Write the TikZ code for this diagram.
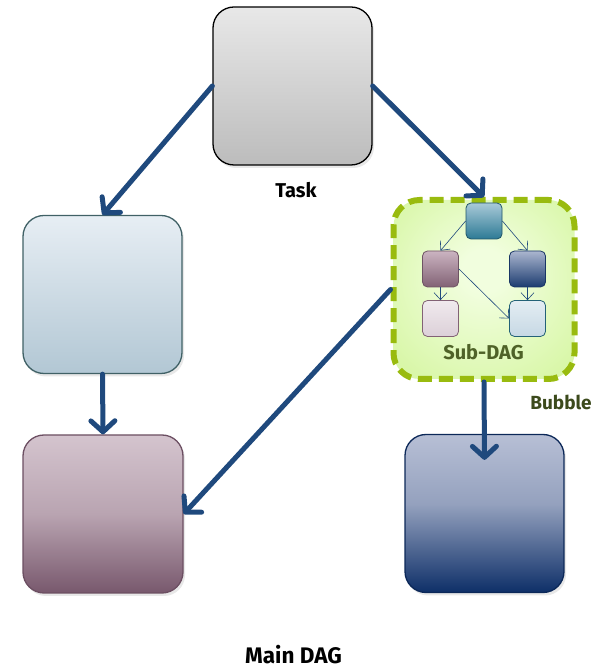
\documentclass[tikz,border=0pt]{standalone}
\usepackage{fontspec}
\setmainfont{Fira Sans}
\usetikzlibrary{arrows.meta,shadows}

% vertical fills (bottom colour first)
\definecolor{taskTop}{HTML}{E8E8E8}\definecolor{taskBot}{HTML}{BCBCBC}
\definecolor{lbTop}{HTML}{E7EEF4}\definecolor{lbBot}{HTML}{B2C7D4}
\definecolor{mvTop}{HTML}{D4C4CE}\definecolor{mvMid}{HTML}{B9A4B1}\definecolor{mvBot}{HTML}{78586D}
\definecolor{nvTop}{HTML}{B7BFD5}\definecolor{nvMid}{HTML}{94A1BE}\definecolor{nvBot}{HTML}{0E2F68}
\definecolor{stTop}{HTML}{A9CAD8}\definecolor{stBot}{HTML}{2D7A95}
\definecolor{smTop}{HTML}{CBB4C1}\definecolor{smBot}{HTML}{826275}
\definecolor{snTop}{HTML}{ABB6CF}\definecolor{snBot}{HTML}{1C3C70}
\definecolor{slmTop}{HTML}{F0EAEE}\definecolor{slmBot}{HTML}{DCD0D8}
\definecolor{slbTop}{HTML}{E4EDF3}\definecolor{slbBot}{HTML}{C6D8E4}
\definecolor{arrowBlue}{HTML}{1F497D}
\definecolor{bubbleEdge}{HTML}{99BB0F}
\definecolor{bubbleIn}{HTML}{F1FEDE}
\definecolor{bubbleOut}{HTML}{D9F7A9}
\definecolor{oliveText}{HTML}{4F6228}
\definecolor{oliveDark}{HTML}{3C4A1C}

\pgfdeclareverticalshading{taskfill}{100bp}{color(0bp)=(taskBot); color(25bp)=(taskBot); color(75bp)=(taskTop); color(100bp)=(taskTop)}
\pgfdeclareverticalshading{lbfill}{100bp}{color(0bp)=(lbBot); color(25bp)=(lbBot); color(75bp)=(lbTop); color(100bp)=(lbTop)}
\pgfdeclareverticalshading{mvfill}{100bp}{color(0bp)=(mvBot); color(25bp)=(mvBot); color(50bp)=(mvMid); color(75bp)=(mvTop); color(100bp)=(mvTop)}
\pgfdeclareverticalshading{nvfill}{100bp}{color(0bp)=(nvBot); color(25bp)=(nvBot); color(53bp)=(nvMid); color(75bp)=(nvTop); color(100bp)=(nvTop)}
\pgfdeclareverticalshading{stfill}{100bp}{color(0bp)=(stBot); color(25bp)=(stBot); color(75bp)=(stTop); color(100bp)=(stTop)}
\pgfdeclareverticalshading{smfill}{100bp}{color(0bp)=(smBot); color(25bp)=(smBot); color(75bp)=(smTop); color(100bp)=(smTop)}
\pgfdeclareverticalshading{snfill}{100bp}{color(0bp)=(snBot); color(25bp)=(snBot); color(75bp)=(snTop); color(100bp)=(snTop)}
\pgfdeclareverticalshading{slmfill}{100bp}{color(0bp)=(slmBot); color(25bp)=(slmBot); color(75bp)=(slmTop); color(100bp)=(slmTop)}
\pgfdeclareverticalshading{slbfill}{100bp}{color(0bp)=(slbBot); color(25bp)=(slbBot); color(75bp)=(slbTop); color(100bp)=(slbTop)}
\pgfdeclareradialshading{bubblefill}{\pgfpoint{0bp}{6bp}}{color(0bp)=(bubbleIn); color(6bp)=(bubbleIn); color(32bp)=(bubbleOut); color(50bp)=(bubbleOut)}

\tikzset{
  bigbox/.style={draw, line width=1.3pt, rounded corners=21pt, inner sep=0pt,
    minimum width=158pt, minimum height=158pt,
    drop shadow={opacity=0.18, shadow xshift=2pt, shadow yshift=-3pt}},
  smallbox/.style={draw, line width=0.8pt, rounded corners=5pt, inner sep=0pt,
    minimum width=36pt, minimum height=36pt},
  mainarrow/.style={draw=arrowBlue, line width=5pt, line cap=round,
    -{Straight Barb[length=11pt, width=24pt, round]}},
  subarrow/.style={draw=arrowBlue, line width=0.6pt,
    -{Straight Barb[length=7pt, width=13pt]}},
  caption/.style={font=\fontsize{20}{22}\selectfont\bfseries},
}

\begin{document}
\begin{tikzpicture}[x=1pt, y=1pt]
\useasboundingbox (0,0) rectangle (600,669);

% main DAG tasks
\node[bigbox, draw=black, shading=taskfill, minimum width=159pt] (task) at (292.5,583) {};
\node[bigbox, draw=lbBot!45!black!80!teal, shading=lbfill, minimum width=159pt] (lb) at (102.5,374.5) {};
\node[bigbox, draw=mvBot!90!black, shading=mvfill, minimum width=160pt] (mv) at (103,155) {};
\node[bigbox, draw=nvBot!85!black, shading=nvfill, minimum width=159pt] (nv) at (484.5,155.5) {};

% the bubble holding a sub-DAG
\node[draw=bubbleEdge, line width=6pt, dash pattern=on 14pt off 7pt,
      rounded corners=26pt, shading=bubblefill, inner sep=0pt,
      minimum width=181pt, minimum height=179pt] (bubble) at (484,379.5) {};

\node[smallbox, draw=stBot!70!black, shading=stfill] (st) at (484,448) {};
\node[smallbox, draw=smBot!85!black, shading=smfill] (sm) at (440.5,400) {};
\node[smallbox, draw=snBot!90!black, shading=snfill] (sn) at (527.5,400) {};
\node[smallbox, draw=smBot, shading=slmfill] (slm) at (440.5,350.5) {};
\node[smallbox, draw=stBot!80!black, shading=slbfill] (slb) at (527.5,350.5) {};

\draw[subarrow] (st.west) -- (sm.north);
\draw[subarrow] (st.east) -- (sn.north);
\draw[subarrow] (sm.south) -- (slm.north);
\draw[subarrow] (sn.south) -- (slb.north);
\draw[subarrow] (sm.east) -- (slb.west);

% labels
\node[caption] (tasklbl) at (296,479) {Task};
\node[font=\fontsize{20}{22}\selectfont\bfseries, text=oliveText] (sublbl) at (483.5,317) {Sub-DAG};
\node[font=\fontsize{19}{21}\selectfont\bfseries, text=oliveDark] (bubblelbl) at (561,267) {Bubble};
\node[font=\fontsize{22.5}{24}\selectfont\bfseries] (mainlbl) at (293.5,14) {Main DAG};

% main DAG edges
\draw[mainarrow] (task.west) -- (lb.north);
\draw[mainarrow] (task.east) -- (bubble.north);
\draw[mainarrow] (lb.south) -- (mv.north);
\draw[mainarrow] (bubble.west) -- (mv.east);
\draw[mainarrow] (bubble.south) -- ([yshift=-26pt]nv.north);
\end{tikzpicture}
\end{document}
